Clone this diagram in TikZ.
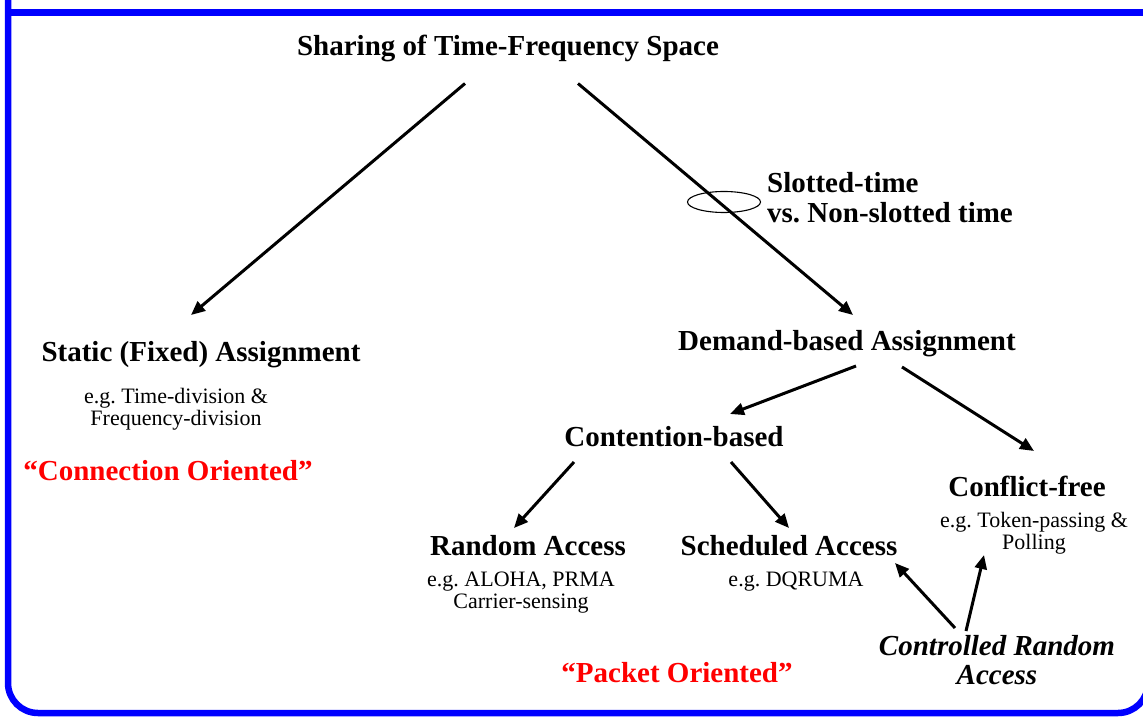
\documentclass[tikz,border=0pt]{standalone}
\usepackage{fontspec}
\setmainfont{Liberation Serif}
\usetikzlibrary{arrows.meta,calc,shapes.geometric}

\begin{document}
\frenchspacing
\begin{tikzpicture}[x=1pt,y=-1pt,
  head/.style={font=\fontsize{29}{30}\selectfont\bfseries, inner sep=0, anchor=base},
  desc/.style={font=\fontsize{22}{22}\selectfont, inner sep=0, align=center, anchor=north},
  tag/.style={head, text=red},
  arr/.style={line width=3pt, -{Triangle[length=14pt,width=12pt]}},
  frame/.style={draw=blue, line width=6.5pt}]
\useasboundingbox (0,0) rectangle (1143,719);

% outer frame
\draw[frame, rounded corners=30pt] (8,-40) -- (8,713) -- (1148,713) -- (1148,-40);
\draw[frame] (8,12.5) -- (1170,12.5);

% root
\node[head] (top) at (508,55.5) {Sharing of Time-Frequency Space};
\node[head, anchor=north west, align=left] (slot) at (767,172) {Slotted-time\\vs. Non-slotted time};
\node[draw, ellipse, minimum width=73pt, minimum height=21pt, inner sep=0, line width=1.1pt] (ring) at (724,202) {};

% static branch
\node[head] (static) at (201,361) {Static (Fixed) Assignment};
\node[desc] (staticd) at (176,388) {e.g. Time-division \&\\Frequency-division};
\node[tag] (conn) at (168,480) {“Connection Oriented”};

% demand branch
\node[head] (demand) at (847,350) {Demand-based Assignment};
\node[head] (cont) at (674,446) {Contention-based};
\node[head] (free) at (1027,496) {Conflict-free};
\node[desc] (freed) at (1034,512) {e.g. Token-passing \&\\Polling};
\node[head] (rand) at (528,555) {Random Access};
\node[desc] (randd) at (521,572) {e.g. ALOHA, PRMA\\Carrier-sensing};
\node[head] (sched) at (789,555) {Scheduled Access};
\node[desc] (schedd) at (796,572) {e.g. DQRUMA};
\node[head, font=\fontsize{29}{29}\selectfont\bfseries\itshape, align=center, anchor=north] (crand) at (997,635) {Controlled Random\\Access};
\node[tag] (pack) at (677,682) {“Packet Oriented”};

% connectors
\draw[arr] ($(top.base)+(-43,28)$) -- ($(static.base)+(-10,-46)$);
\draw[arr] ($(top.base)+(70,28)$) -- ($(demand.base)+(6,-35)$);
\draw[arr] ($(demand.base)+(9,16)$) -- ($(cont.base)+(56,-32)$);
\draw[arr] ($(demand.base)+(55,17)$) -- ($(free.base)+(7,-45)$);
\draw[arr] ($(cont.base)+(-100,16)$) -- ($(rand.base)+(-14,-27)$);
\draw[arr] ($(cont.base)+(57,16)$) -- ($(sched.base)+(0,-27)$);
\draw[arr] ($(crand.north)+(-42,-7)$) -- ($(sched.base)+(106,8)$);
\draw[arr] ($(crand.north)+(-31,-4)$) -- ($(freed.north)+(-50,43)$);
\end{tikzpicture}
\end{document}
